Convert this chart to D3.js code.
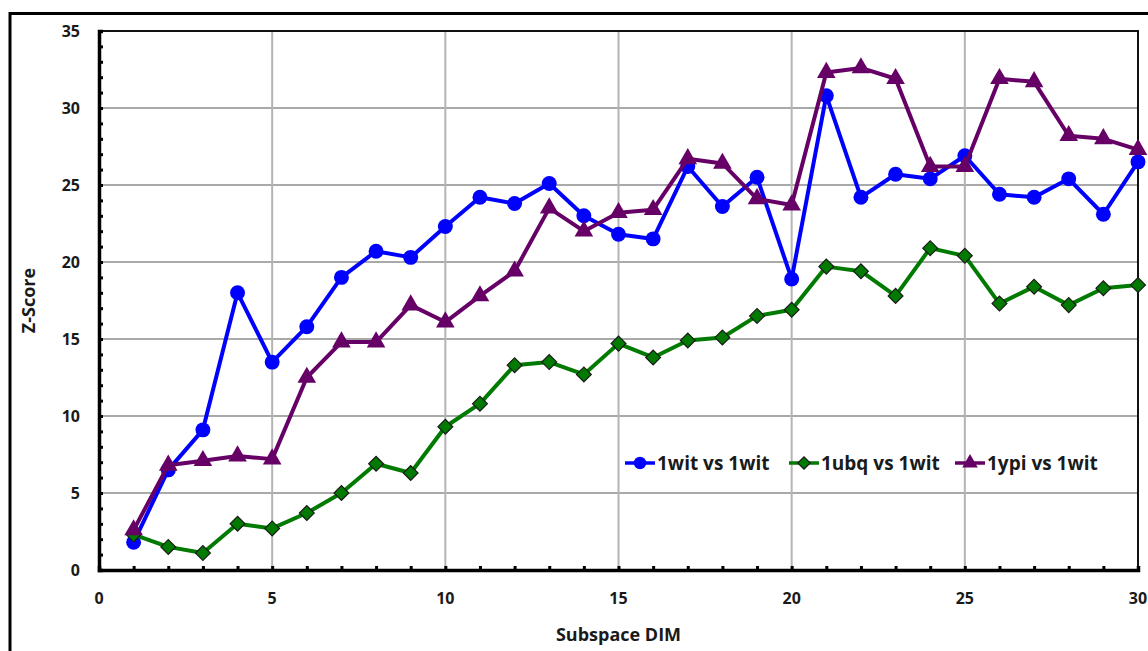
<!DOCTYPE html>
<html>
<head>
<meta charset="utf-8">
<script src="https://cdn.jsdelivr.net/npm/d3@7"></script>
<style>
  html, body { margin: 0; padding: 0; background: #fff; }
  svg { display: block; }
  text { font-family: "Open Sans", Lato, sans-serif; font-weight: bold; fill: #1a1a1a; }
</style>
</head>
<body>
<svg id="chart" width="1148" height="651"></svg>
<script>
// Subspace dimension on the x axis
const dims = d3.range(1, 31);

// Z-scores per comparison
const wit1wit = [1.8, 6.5, 9.1, 18.0, 13.5, 15.8, 19.0, 20.7, 20.3, 22.3,
                 24.2, 23.8, 25.1, 23.0, 21.8, 21.5, 26.2, 23.6, 25.5, 18.9,
                 30.8, 24.2, 25.7, 25.4, 26.9, 24.4, 24.2, 25.4, 23.1, 26.5];
const ubq1wit = [2.3, 1.5, 1.1, 3.0, 2.7, 3.7, 5.0, 6.9, 6.3, 9.3,
                 10.8, 13.3, 13.5, 12.7, 14.7, 13.8, 14.9, 15.1, 16.5, 16.9,
                 19.7, 19.4, 17.8, 20.9, 20.4, 17.3, 18.4, 17.2, 18.3, 18.5];
const ypi1wit = [2.6, 6.8, 7.1, 7.4, 7.2, 12.5, 14.8, 14.8, 17.2, 16.1,
                 17.8, 19.4, 23.5, 22.0, 23.2, 23.4, 26.7, 26.4, 24.1, 23.7,
                 32.3, 32.6, 31.9, 26.2, 26.2, 31.9, 31.7, 28.2, 28.0, 27.3];

const seriesNames = ["1wit vs 1wit", "1ubq vs 1wit", "1ypi vs 1wit"];
const xTickLabels = [0, 5, 10, 15, 20, 25, 30];
const yTickLabels = [0, 5, 10, 15, 20, 25, 30, 35];

// marker shapes: circle, square turned 45° (diamond), triangle
const series = [
  { name: seriesNames[0], values: wit1wit, color: "#0000ff", symbol: d3.symbolCircle, size: 175, rotate: 0, stroke: "none" },
  { name: seriesNames[1], values: ubq1wit, color: "#007a00", symbol: d3.symbolSquare, size: 110, rotate: 45, stroke: "#1a1a1a" },
  { name: seriesNames[2], values: ypi1wit, color: "#660066", symbol: d3.symbolTriangle, size: 150, rotate: 0, stroke: "none" }
];

const svg = d3.select("#chart");
const plotLeft = 99, plotRight = 1138, plotTop = 31, plotBottom = 570;

const x = d3.scaleLinear().domain([0, 30]).range([plotLeft, plotRight]);
const y = d3.scaleLinear().domain([0, 35]).range([plotBottom, plotTop]);

// outer frame
svg.append("path")
  .attr("d", `M10,660 L10,13.5 L1160,13.5`)
  .attr("fill", "none").attr("stroke", "#000").attr("stroke-width", 3);

// gridlines
svg.append("g").selectAll("line")
  .data(yTickLabels.filter(v => v > 0 && v < 35))
  .join("line")
  .attr("x1", plotLeft).attr("x2", plotRight)
  .attr("y1", d => y(d)).attr("y2", d => y(d))
  .attr("stroke", "#8c8c8c").attr("stroke-width", 1.5);

svg.append("g").selectAll("line")
  .data(xTickLabels.filter(v => v > 0 && v < 30))
  .join("line")
  .attr("x1", d => x(d)).attr("x2", d => x(d))
  .attr("y1", plotTop).attr("y2", plotBottom)
  .attr("stroke", "#b4b4b4").attr("stroke-width", 2);

// plot border (top and right)
svg.append("path")
  .attr("d", `M${plotLeft},${plotTop} L${plotRight},${plotTop} L${plotRight},${plotBottom}`)
  .attr("fill", "none").attr("stroke", "#111").attr("stroke-width", 2);

// axes with minor ticks pointing inward
const yAxis = svg.append("g").attr("transform", `translate(${plotLeft},0)`)
  .call(d3.axisRight(y).tickValues(d3.range(0, 36)).tickSize(4).tickFormat(""));
yAxis.select(".domain").attr("stroke", "#000").attr("stroke-width", 3.5);
yAxis.selectAll(".tick line").attr("stroke", "#000").attr("stroke-width", 3);

const xAxis = svg.append("g").attr("transform", `translate(0,${plotBottom})`)
  .call(d3.axisTop(x).tickValues(d3.range(0, 31)).tickSize(4).tickFormat(""));
xAxis.select(".domain").attr("stroke", "#000").attr("stroke-width", 3.5);
xAxis.selectAll(".tick line").attr("stroke", "#000").attr("stroke-width", 3);

// tick labels
svg.append("g").selectAll("text")
  .data(yTickLabels).join("text")
  .attr("x", 80).attr("y", d => y(d)).attr("dy", "0.35em")
  .attr("text-anchor", "end").attr("font-size", 16)
  .text(d => d);

svg.append("g").selectAll("text")
  .data(xTickLabels).join("text")
  .attr("x", d => x(d)).attr("y", 598).attr("dy", "0.35em")
  .attr("text-anchor", "middle").attr("font-size", 16)
  .text(d => d);

// axis titles
svg.append("text")
  .attr("transform", `translate(29,${(plotTop + plotBottom) / 2}) rotate(-90)`)
  .attr("text-anchor", "middle").attr("dy", "0.35em").attr("font-size", 18)
  .text("Z-Score");
svg.append("text")
  .attr("x", (plotLeft + plotRight) / 2).attr("y", 635).attr("dy", "0.35em")
  .attr("text-anchor", "middle").attr("font-size", 18)
  .text("Subspace DIM");

// series lines and markers
const line = d3.line().x((d, i) => x(dims[i])).y(d => y(d));
series.forEach(s => {
  const g = svg.append("g");
  g.append("path").datum(s.values)
    .attr("d", line).attr("fill", "none")
    .attr("stroke", s.color).attr("stroke-width", 4)
    .attr("stroke-linejoin", "round");
  g.selectAll("path.m").data(s.values).join("path")
    .attr("class", "m")
    .attr("transform", (d, i) => `translate(${x(dims[i])},${y(d)}) rotate(${s.rotate})`)
    .attr("d", d3.symbol().type(s.symbol).size(s.size))
    .attr("fill", s.color).attr("stroke", s.stroke).attr("stroke-width", 1.2);
});

// legend
const legendX = [625, 789, 955];
const legendY = 463;
series.forEach((s, i) => {
  const g = svg.append("g").attr("transform", `translate(${legendX[i]},${legendY})`);
  g.append("line").attr("x1", 0).attr("x2", 30).attr("y1", 0).attr("y2", 0)
    .attr("stroke", s.color).attr("stroke-width", 3.5);
  g.append("path").attr("transform", `translate(15,0) rotate(${s.rotate})`)
    .attr("d", d3.symbol().type(s.symbol).size(s.size * 0.7))
    .attr("fill", s.color).attr("stroke", s.stroke).attr("stroke-width", 1.2);
  g.append("text").attr("x", 32).attr("y", 0).attr("dy", "0.35em")
    .attr("font-size", 19).text(s.name);
});
</script>
</body>
</html>
